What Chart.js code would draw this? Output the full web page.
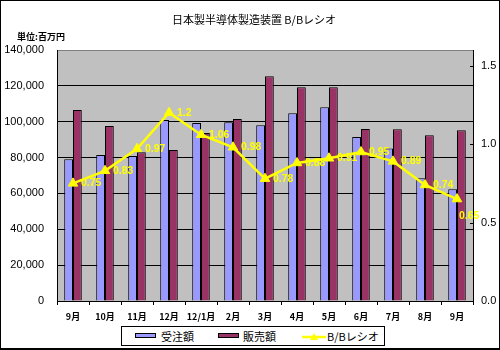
<!DOCTYPE html>
<html>
<head>
<meta charset="utf-8">
<script src="https://cdn.jsdelivr.net/npm/chart.js@4.4.1/dist/chart.umd.min.js"></script>
<style>
  html, body { margin: 0; padding: 0; background: #fff; }
  #wrap { position: relative; width: 500px; height: 350px; }
  #chart { position: absolute; left: 0; top: 0; }
  #legend {
    position: absolute; left: 121px; top: 326px; width: 262px; height: 18px;
    border: 1px solid #000; background: #fff;
    font-family: "Noto Sans CJK JP", "Liberation Sans", sans-serif; font-size: 11px;
  }
  #legend .sw { position: absolute; top: 6px; width: 19px; height: 3px; border: 1px solid #000; }
  #legend .tx { position: absolute; top: 0px; line-height: 18px; white-space: nowrap; color: #000; }
  #legend svg { position: absolute; left: 180px; top: 3px; }
</style>
</head>
<body>
<div id="wrap">
  <canvas id="chart" width="500" height="350"></canvas>
  <div id="legend">
    <div class="sw" style="left:13px;background:#9999FF"></div>
    <div class="tx" style="left:39px">受注額</div>
    <div class="sw" style="left:96px;background:#993366"></div>
    <div class="tx" style="left:121px">販売額</div>
    <svg width="24" height="12" viewBox="0 0 24 12">
      <line x1="0" y1="7" x2="24" y2="7" stroke="#FFFF00" stroke-width="2.5"/>
      <polygon points="12,3 16,10 8,10" fill="#FFFF00"/>
    </svg>
    <div class="tx" style="left:205px">B/Bレシオ</div>
  </div>
</div>
<script>
// Monthly figures, unit: million yen
const months = ['9月', '10月', '11月', '12月', '12/1月', '2月', '3月', '4月', '5月', '6月', '7月', '8月', '9月'];
const orders = [79000, 81400, 80900, 101000, 99300, 99700, 98000, 104700, 108000, 91500, 85000, 68400, 62300];
const sales  = [106500, 97600, 82900, 84200, 93700, 101500, 125300, 119200, 119200, 95900, 95800, 92400, 95200];
const bbRatio = [0.75, 0.83, 0.97, 1.2, 1.06, 0.98, 0.78, 0.88, 0.91, 0.95, 0.89, 0.74, 0.65];
const leftTicks = [0, 20000, 40000, 60000, 80000, 100000, 120000, 140000];
const rightTicks = [0, 0.5, 1.0, 1.5];

const CJK = '"Noto Sans CJK JP", "Liberation Sans", sans-serif';
const LATIN = '"Liberation Sans", Arial, sans-serif';

// Grey plot background, drawn before the grid and bars
const plotBackground = {
  id: 'plotBackground',
  beforeDraw(chart) {
    const { ctx, chartArea: a } = chart;
    ctx.save();
    ctx.fillStyle = '#C0C0C0';
    ctx.fillRect(a.left, a.top, a.right - a.left, a.bottom - a.top);
    ctx.restore();
  }
};

// Title, unit note, inner ticks on the ratio axis, value labels and frame
const decorations = {
  id: 'decorations',
  afterDatasetsDraw(chart) {
    const ctx = chart.ctx;
    const meta = chart.getDatasetMeta(2);
    ctx.save();
    ctx.font = 'bold 10.5px ' + LATIN;
    ctx.fillStyle = '#FFFF00';
    ctx.textBaseline = 'middle';
    ctx.textAlign = 'left';
    meta.data.forEach((pt, i) => {
      const txt = String(bbRatio[i]);
      if (i === meta.data.length - 1) {
        ctx.fillText(txt, pt.x + 2, pt.y + 17);
      } else {
        ctx.fillText(txt, pt.x + 8, pt.y);
      }
    });
    ctx.restore();
  },
  afterDraw(chart) {
    const ctx = chart.ctx;
    const y1 = chart.scales.y1;
    ctx.save();
    // short inward tick marks on the right axis
    ctx.strokeStyle = '#000';
    ctx.lineWidth = 1;
    rightTicks.forEach(v => {
      if (v === 0) return;
      const py = Math.round(y1.getPixelForValue(v)) + 0.5;
      ctx.beginPath();
      ctx.moveTo(y1.left - 3, py);
      ctx.lineTo(y1.left, py);
      ctx.stroke();
    });
    // title
    ctx.fillStyle = '#000';
    ctx.textBaseline = 'middle';
    ctx.textAlign = 'center';
    ctx.font = '11px ' + CJK;
    ctx.fillText('日本製半導体製造装置 B/Bレシオ', 254, 20);
    // unit note
    ctx.textAlign = 'left';
    ctx.font = 'bold 9px ' + CJK;
    ctx.fillText('単位:百万円', 17, 37);
    // outer frame
    ctx.strokeStyle = '#000';
    ctx.lineWidth = 1;
    ctx.strokeRect(0.5, 0.5, 499, 348);
    ctx.beginPath();
    ctx.moveTo(0, 349.5);
    ctx.lineTo(500, 349.5);
    ctx.stroke();
    ctx.restore();
  }
};

new Chart(document.getElementById('chart'), {
  data: {
    labels: months,
    datasets: [
      {
        type: 'bar', label: '受注額', data: orders, yAxisID: 'y', order: 1,
        backgroundColor: '#9999FF', borderColor: '#000000', borderWidth: 1,
        categoryPercentage: 0.55, barPercentage: 1.0
      },
      {
        type: 'bar', label: '販売額', data: sales, yAxisID: 'y', order: 1,
        backgroundColor: '#993366', borderColor: '#000000', borderWidth: 1,
        categoryPercentage: 0.55, barPercentage: 1.0
      },
      {
        type: 'line', label: 'B/Bレシオ', data: bbRatio, yAxisID: 'y1', order: 0,
        borderColor: '#FFFF00', borderWidth: 2.5, tension: 0,
        pointStyle: 'triangle', pointRadius: 5.5, pointBorderWidth: 1,
        pointBackgroundColor: '#FFFF00', pointBorderColor: '#FFFF00'
      }
    ]
  },
  options: {
    responsive: false,
    animation: false,
    devicePixelRatio: 1,
    layout: { padding: { top: 50, left: 0, right: 0, bottom: 26 } },
    plugins: {
      legend: { display: false },
      title: { display: false },
      tooltip: { enabled: false }
    },
    scales: {
      x: {
        offset: true,
        afterFit(s) { s.height = 23; },
        grid: {
          display: true, offset: true, drawOnChartArea: false,
          drawTicks: true, tickLength: 4, color: '#000000', lineWidth: 1
        },
        border: { display: true, color: '#000000', width: 1 },
        ticks: {
          padding: 6, maxRotation: 0, autoSkip: false,
          color: '#000', font: { family: CJK, size: 9, weight: 'bold' }
        }
      },
      y: {
        position: 'left',
        min: 0, max: 140000,
        afterFit(s) { s.width = 57; },
        afterBuildTicks(s) { s.ticks = leftTicks.map(v => ({ value: v })); },
        grid: {
          drawTicks: false, lineWidth: 1,
          color: ctx => (ctx.tick && ctx.tick.value === 140000) ? '#808080' : '#000000'
        },
        border: { display: true, color: '#000000', width: 1 },
        ticks: {
          padding: 13, color: '#000',
          font: { family: LATIN, size: 11 },
          callback: v => v.toLocaleString('en-US')
        }
      },
      y1: {
        position: 'right',
        min: 0, max: 1.6,
        afterFit(s) { s.width = 27; },
        afterBuildTicks(s) { s.ticks = rightTicks.map(v => ({ value: v })); },
        grid: { display: false, drawTicks: false },
        border: { display: true, color: '#000000', width: 1 },
        ticks: {
          padding: 8, color: '#000',
          font: { family: LATIN, size: 11 },
          callback: v => Number(v).toFixed(1)
        }
      }
    }
  },
  plugins: [plotBackground, decorations]
});
</script>
</body>
</html>
